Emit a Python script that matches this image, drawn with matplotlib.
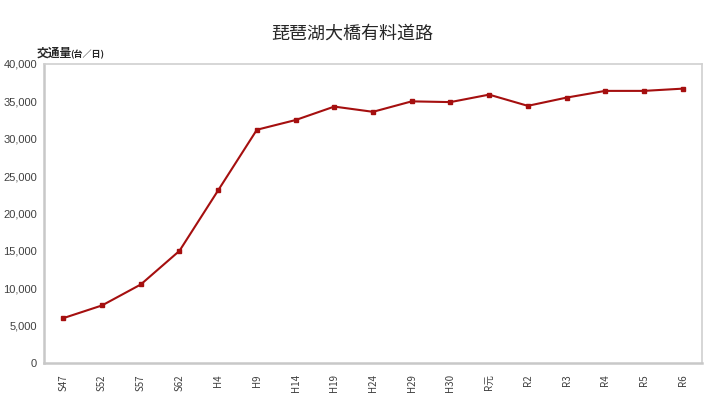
import matplotlib
matplotlib.use("Agg")
import matplotlib.pyplot as plt
from matplotlib.ticker import FuncFormatter

plt.rcParams['font.family'] = ['Noto Sans CJK JP', 'DejaVu Sans']

# 年度と交通量（台／日）
years = ["S47", "S52", "S57", "S62", "H4", "H9", "H14", "H19", "H24",
         "H29", "H30", "R元", "R2", "R3", "R4", "R5", "R6"]
traffic = [6000, 7700, 10500, 15000, 23100, 31200, 32500, 34300, 33600,
           35000, 34900, 35900, 34400, 35500, 36400, 36400, 36700]
yticks = [0, 5000, 10000, 15000, 20000, 25000, 30000, 35000, 40000]

fig = plt.figure(figsize=(7.05, 4.19), dpi=100)
ax = fig.add_axes([0.0624, 0.1337, 0.9333, 0.7136])

x = range(len(years))
ax.plot(x, traffic, color="#A50F0F", linewidth=1.5, marker="s", markersize=3.2)

ax.set_xlim(-0.5, len(years) - 0.5)
ax.set_ylim(0, 40000)
ax.set_yticks(yticks)
ax.yaxis.set_major_formatter(FuncFormatter(lambda v, p: f"{int(v):,}"))
ax.set_xticks(list(x))
ax.set_xticklabels(years, rotation=90, fontsize=7, color="#404040")
for lbl in ax.get_yticklabels():
    lbl.set_family(["Liberation Sans", "DejaVu Sans"])
ax.tick_params(axis="y", labelsize=8, colors="#404040", length=0, pad=5)
ax.tick_params(axis="x", length=0, pad=8)

for s in ["top", "right"]:
    ax.spines[s].set_color("#D0D0D0")
    ax.spines[s].set_linewidth(1.2)
for s in ["left", "bottom"]:
    ax.spines[s].set_color("#C8C8C8")
    ax.spines[s].set_linewidth(1.8)

fig.text(0.5, 0.92, "琵琶湖大橋有料道路", ha="center", va="center",
         fontsize=13, color="#262626")
fig.text(0.052, 0.873, "交通量", ha="left", va="center", fontsize=8.5,
         fontweight="bold", color="#262626")
fig.text(0.1, 0.871, "(台／日)", ha="left", va="center", fontsize=6.5,
         fontweight="bold", color="#262626")

fig.savefig("out.png", dpi=100)
